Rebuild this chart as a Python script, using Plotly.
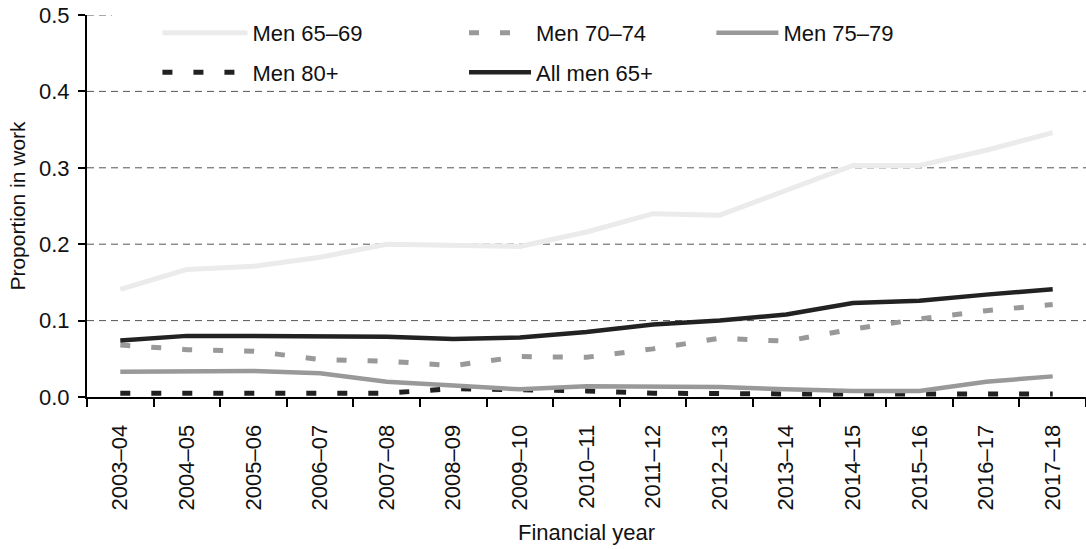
import plotly.graph_objects as go

years = ["2003–04", "2004–05", "2005–06", "2006–07", "2007–08", "2008–09", "2009–10",
         "2010–11", "2011–12", "2012–13", "2013–14", "2014–15", "2015–16", "2016–17", "2017–18"]

men_65_69 = [0.141, 0.167, 0.171, 0.183, 0.200, 0.198, 0.197, 0.216, 0.240, 0.238, 0.271, 0.303, 0.303, 0.323, 0.346]
men_70_74 = [0.068, 0.062, 0.060, 0.049, 0.047, 0.041, 0.053, 0.052, 0.063, 0.077, 0.073, 0.089, 0.102, 0.113, 0.121]
men_75_79 = [0.033, 0.034, 0.034, 0.031, 0.020, 0.015, 0.010, 0.014, 0.014, 0.013, 0.010, 0.008, 0.008, 0.020, 0.027]
men_80p   = [0.005, 0.005, 0.005, 0.005, 0.005, 0.011, 0.010, 0.008, 0.005, 0.004, 0.004, 0.004, 0.004, 0.004, 0.004]
all_men   = [0.074, 0.080, 0.080, 0.079, 0.079, 0.076, 0.078, 0.085, 0.095, 0.100, 0.108, 0.123, 0.126, 0.134, 0.141]

y_ticks = [0.0, 0.1, 0.2, 0.3, 0.4, 0.5]
grid_vals = [0.1, 0.2, 0.3, 0.4]

FONT = "Liberation Sans, Arial, sans-serif"
DASH = "10px,21px"
TXT = "#111111"

fig = go.Figure()

series = [
    ("Men 65–69", men_65_69, "#ebebeb", "solid", 5, "legend", "g1"),
    ("Men 80+", men_80p, "#222222", DASH, 5, "legend", "g2"),
    ("Men 70–74", men_70_74, "#999999", DASH, 5, "legend2", "g3"),
    ("All men 65+", all_men, "#222222", "solid", 4.5, "legend2", "g4"),
    ("Men 75–79", men_75_79, "#999999", "solid", 4.5, "legend3", "g5"),
]

for name, vals, color, dash, w, lg, grp in series:
    fig.add_trace(go.Scatter(
        x=years, y=vals, name=name, mode="lines",
        line=dict(color=color, width=w, dash=dash),
        legend=lg, legendgroup=grp,
    ))

# dashed horizontal gridlines
for g in grid_vals:
    fig.add_shape(type="line", xref="paper", yref="y", x0=0, x1=1, y0=g, y1=g,
                  line=dict(color="#555555", width=1, dash="7px,5px"), layer="below")
fig.add_shape(type="line", xref="paper", yref="y", x0=0, x1=0.025, y0=0.5, y1=0.5,
              line=dict(color="#555555", width=1, dash="7px,5px"), layer="below")

def leg(x, iw):
    return dict(
        orientation="v", bgcolor="rgba(0,0,0,0)", borderwidth=0,
        font=dict(family=FONT, size=22, color=TXT),
        itemwidth=iw, tracegroupgap=8, traceorder="grouped",
        xanchor="left", yanchor="top", x=x, y=1.008,
    )

fig.update_layout(
    width=1086, height=549,
    margin=dict(l=87, r=0, t=15, b=152, autoexpand=False),
    paper_bgcolor="white", plot_bgcolor="white",
    font=dict(family=FONT, size=22, color=TXT),
    legend=leg(0.0705, 85),
    legend2=leg(0.3774, 62),
    legend3=leg(0.625, 62),
    xaxis=dict(
        type="category", range=[-0.5, 14.5], automargin=False,
        showline=True, linecolor="black", linewidth=2,
        ticks="outside", tickson="boundaries", ticklen=8, tickwidth=2, tickcolor="black",
        tickangle=-90, tickfont=dict(family=FONT, size=22, color=TXT),
        ticklabelstandoff=17, ticklabeloverflow="allow",
        showgrid=False,
        title=dict(text="Financial year", font=dict(family=FONT, size=22, color=TXT), standoff=15),
    ),
    yaxis=dict(
        range=[0, 0.5], tickvals=y_ticks, tickformat=".1f", automargin=False,
        showline=True, linecolor="black", linewidth=2,
        ticks="outside", ticklen=7, tickwidth=2, tickcolor="black",
        tickfont=dict(family=FONT, size=22, color=TXT),
        ticklabelstandoff=4, ticklabeloverflow="allow",
        showgrid=False, zeroline=False,
        title=dict(text="Proportion in work", font=dict(family=FONT, size=21, color=TXT), standoff=8),
    ),
)

# remove the page's default 8px body margin so the figure fills the window exactly
fig.write_html("out.html", config={"displayModeBar": False},
               post_script="document.body.style.margin='0';")
